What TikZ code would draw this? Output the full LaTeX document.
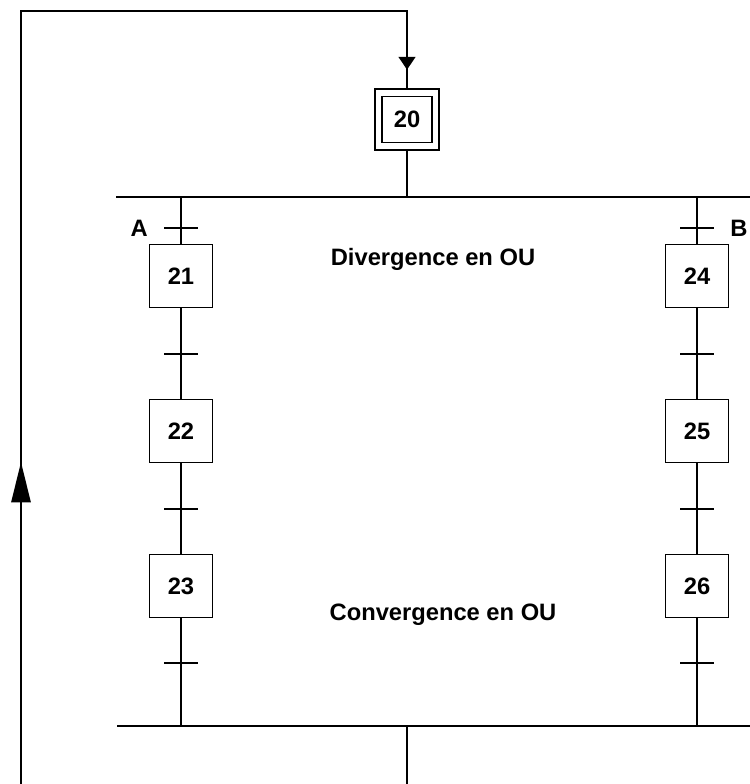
\documentclass[tikz,border=0pt]{standalone}
\usepackage{fontspec}
\setmainfont{Liberation Sans}
\usetikzlibrary{positioning, arrows.meta, decorations.markings}

\tikzset{
  lien/.style={line width=1.1pt},
  etape/.style={draw, line width=1.1pt, minimum width=1.26cm, minimum height=1.26cm,
    inner sep=0pt, font=\bfseries\fontsize{13.5}{16}\selectfont},
  initiale/.style={etape, double, double distance=0.11cm, minimum width=1.15cm,
    minimum height=1.07cm, outer sep=0.095cm},
  lbl/.style={inner sep=0pt, font=\bfseries\fontsize{13.5}{16}\selectfont},
  titre/.style={inner sep=0pt, font=\bfseries\fontsize{13.5}{16}\selectfont},
  boucle/.style={lien, postaction={decorate}, decoration={markings,
    mark=at position 6.44cm with {\arrow{Triangle[length=23pt,width=11pt]}},
    mark=at position 24.36cm with {\arrow{Triangle[length=7.4pt,width=9.6pt]}}}},
}

\begin{document}
\begin{tikzpicture}[x=0.02cm, y=-0.02cm]
\useasboundingbox (0,0) rectangle (750,784);

% etape initiale
\node[initiale] (s20) at (407,119.5) {20};

% les deux branches
\foreach \col/\a/\b/\c in {181/21/22/23, 697/24/25/26} {
  \node[etape] (s\a) at (\col,276) {\a};
  \node[etape] (s\b) at (\col,431) {\b};
  \node[etape] (s\c) at (\col,586) {\c};
}

% divergence et convergence
\coordinate (divL) at (116,197);
\coordinate (divR) at (750,197);
\coordinate (convL) at (117,726);
\coordinate (convR) at (750,726);
\draw[lien] (divL) -- (divR);
\draw[lien] (convL) -- (convR);
\draw[lien] (s20.south) -- (s20.south |- divL);

\foreach \a/\b/\c in {21/22/23, 24/25/26} {
  \draw[lien] (s\a.north |- divL) -- (s\a.north);
  \draw[lien] (s\a.south) -- (s\b.north);
  \draw[lien] (s\b.south) -- (s\c.north);
  \draw[lien] (s\c.south) -- (s\c.south |- convL);
}

% transitions
\foreach \col/\br in {181/l, 697/r}
  \foreach \y [count=\i] in {228,354,509,663} {
    \coordinate (t\br\i) at (\col,\y);
    \draw[lien] ([xshift=-0.34cm]t\br\i) -- ([xshift=0.34cm]t\br\i);
  }

\node[lbl, left=0.66cm of tl1] (lblA) {A};
\node[lbl, right=0.66cm of tr1] (lblB) {B};

\node[titre] (txtdiv) at (433,259) {Divergence en OU};
\node[titre] (txtconv) at (443,615) {Convergence en OU};

% retour
\coordinate (retour) at (21,784);
\coordinate (coinG) at (21,11);
\coordinate (coinD) at (407,11);
\coordinate (sortie) at (407,784);
\draw[boucle] (retour) -- (coinG) -- (coinD) -- (s20.north);
\draw[lien] (sortie |- convL) -- (sortie);
\end{tikzpicture}
\end{document}
